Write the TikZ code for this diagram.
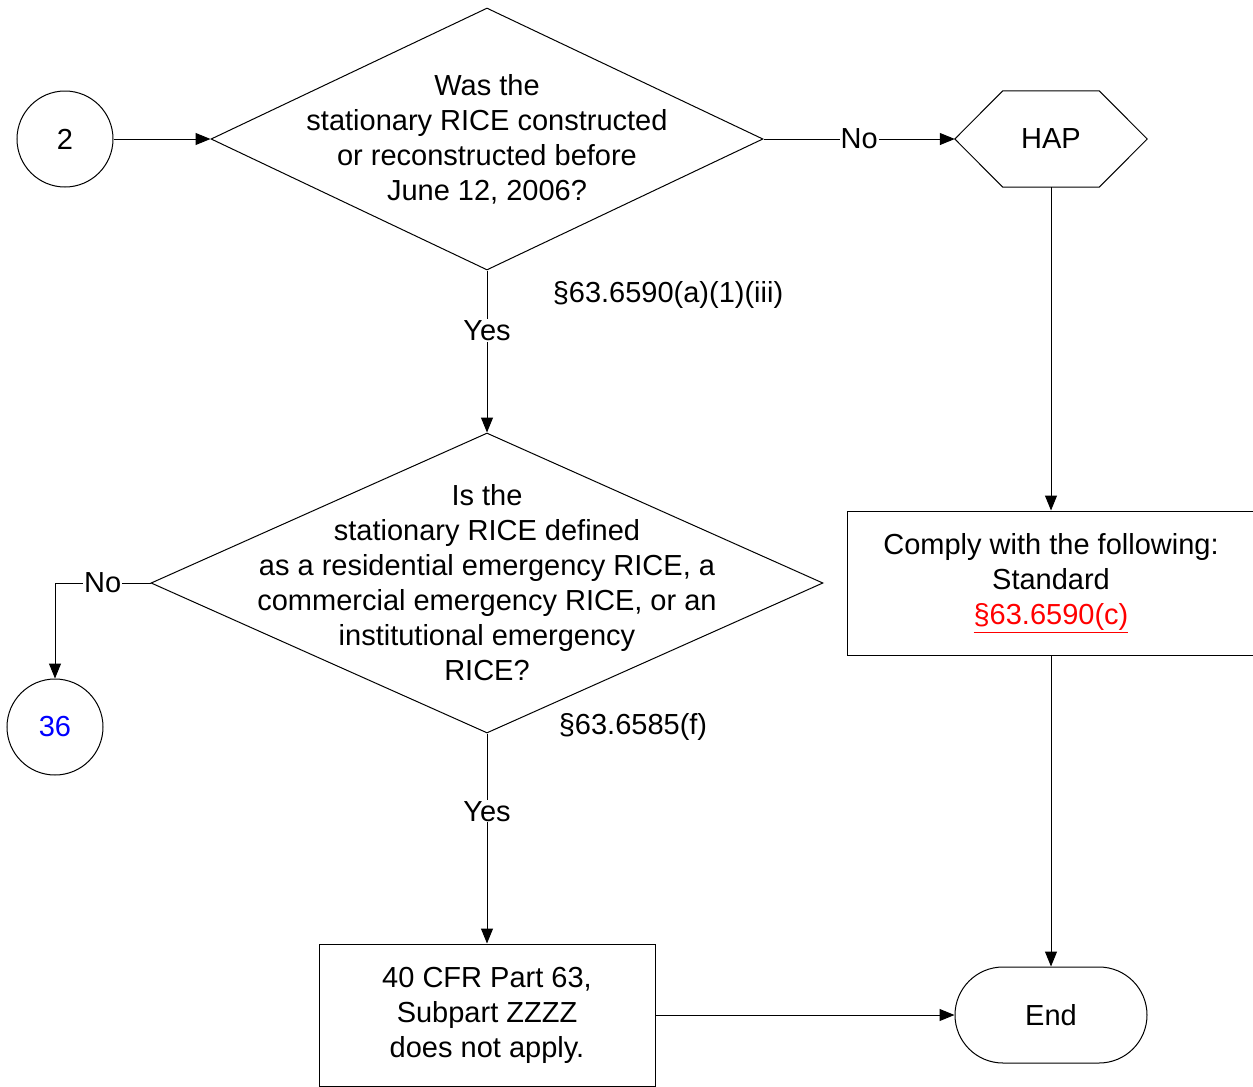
\documentclass[tikz,border=0pt]{standalone}
\usepackage{fontspec}
\setmainfont{Liberation Sans}
\usetikzlibrary{shapes.geometric,shapes.misc,arrows.meta}
\definecolor{linkred}{HTML}{FF0000}
\definecolor{refblue}{HTML}{0000FF}
\tikzset{
  base/.style={draw=black, line width=1pt, inner sep=0pt, align=center, font=\fontsize{29}{35}\selectfont},
  diam/.style={base, diamond},
  circ/.style={base, circle, minimum size=96pt},
  box/.style={base, rectangle},
  txt/.style={inner sep=0pt, align=center, font=\fontsize{29}{35}\selectfont},
  lbl/.style={txt, fill=white, inner sep=1pt},
  conn/.style={line width=1pt, draw=black},
  arr/.style={conn, -{Triangle[length=15pt,width=12pt]}}
}
\begin{document}
\begin{tikzpicture}[x=1pt,y=-1pt]
\useasboundingbox (0,0) rectangle (1253,1087);
% nodes
\node[circ] (c2) at (65,139) {2};
\node[diam, minimum width=552pt, minimum height=262pt] (d1) at (487,139) {};
\node[txt] (t1) at (487,139) {Was the\\stationary RICE constructed\\or reconstructed before\\June 12, 2006?};
\node[txt, minimum width=192pt, minimum height=96pt] (hap) at (1051,139) {HAP};
\draw[line width=1pt] (hap.west) -- ([xshift=48pt]hap.north west) -- ([xshift=-48pt]hap.north east) -- (hap.east) -- ([xshift=-48pt]hap.south east) -- ([xshift=48pt]hap.south west) -- cycle;
\node[txt] (s1) at (668,295) {§63.6590(a)(1)(iii)};
\node[diam, minimum width=672pt, minimum height=300pt] (d2) at (487,583) {};
\node[txt] (t2) at (487,583) {Is the\\stationary RICE defined\\as a residential emergency RICE, a\\commercial emergency RICE, or an\\institutional emergency\\RICE?};
\node[circ, text=refblue] (c36) at (55,727) {36};
\node[txt] (s2) at (633,727) {§63.6585(f)};
\node[box, minimum width=408pt, minimum height=144pt] (comply) at (1051,583) {Comply with the following:\\Standard\\\textcolor{linkred}{\underline{§63.6590(c)}}};
\node[box, minimum width=336pt, minimum height=142pt] (cfr) at (487,1015) {40 CFR Part 63,\\Subpart ZZZZ\\does not apply.};
\node[base, rounded rectangle, minimum width=192pt, minimum height=96pt] (end) at (1051,1015) {End};
% connectors
\draw[arr] (c2) -- (d1.west);
\draw[arr] (d1.east) -- node[lbl] {No} (hap.west);
\draw[arr] (hap.south) -- (comply.north);
\draw[arr] (comply.south) -- (end.north);
\draw[arr] (d1.south) -- node[lbl, pos=0.37] {Yes} (d2.north);
\draw[arr] (d2.west) -| node[lbl, pos=0.25] {No} (c36.north);
\draw[arr] (d2.south) -- node[lbl, pos=0.37] {Yes} (cfr.north);
\draw[arr] (cfr.east) -- (end.west);
\end{tikzpicture}
\end{document}
